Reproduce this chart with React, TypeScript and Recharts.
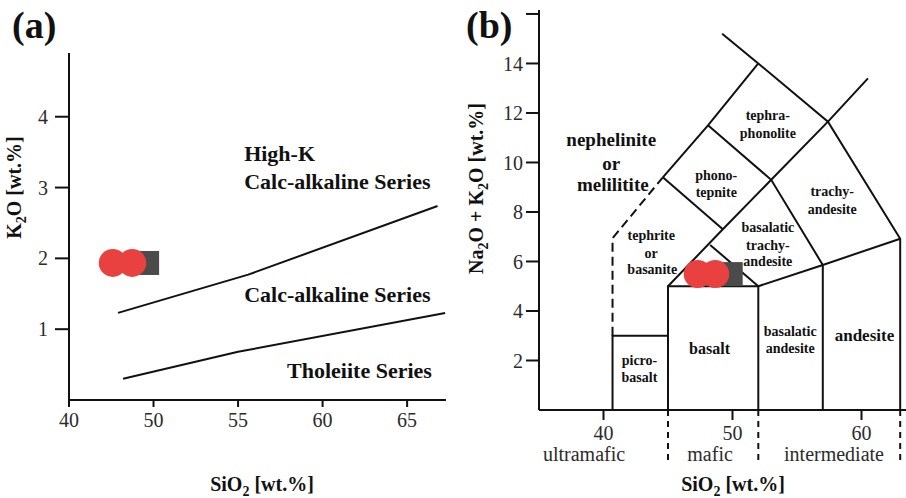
import React from 'react';
import { ComposedChart, Line, Scatter, XAxis, YAxis, ReferenceDot } from 'recharts';

const SERIF = '"Liberation Serif", "Times New Roman", Times, serif';
const INK = '#111111';
const TICK_INK = '#2b2b2b';
const RED = '#e8413f';
const GREY = '#4b4b4b';

// ---- panel (a): K2O vs SiO2 ----
const kXTicks = [45, 50, 55, 60, 65];
const kXTickLabels = ['40', '50', '55', '60', '65'];
const kYTicks = [1, 2, 3, 4];
const highKLine = [
  { x: 47.9, y: 1.23 },
  { x: 55.6, y: 1.77 },
  { x: 66.8, y: 2.74 },
];
const tholeiiteLine = [
  { x: 48.2, y: 0.3 },
  { x: 55.0, y: 0.68 },
  { x: 67.25, y: 1.23 },
];
const kCircles = [
  { x: 47.59, y: 1.935 },
  { x: 48.74, y: 1.935 },
];
const kSquares = [{ x: 49.62, y: 1.935 }];
const kLabels = [
  { text: 'High-K', x: 55.36, y: 3.48 },
  { text: 'Calc-alkaline Series', x: 55.36, y: 3.09 },
  { text: 'Calc-alkaline Series', x: 55.36, y: 1.49 },
  { text: 'Tholeiite Series', x: 57.9, y: 0.42 },
];

// ---- panel (b): TAS diagram ----
const tasNumberTicks = [40, 50, 60];
const tasFieldBounds = [45, 52, 63];
const tasFieldNames = ['ultramafic', 'mafic', 'intermediate'];
const tasFieldCenters = [38.49, 48.26, 57.87];
const tasYTicks = [2, 4, 6, 8, 10, 12, 14, 16];

const picrobasaltEdge = [{ x: 40.7, y: 0 }, { x: 40.7, y: 3 }, { x: 45, y: 3 }];
const tephriteDashed = [{ x: 40.7, y: 3 }, { x: 40.7, y: 6.94 }, { x: 44.6, y: 9.4 }];
const basaltBox = [{ x: 45, y: 0 }, { x: 45, y: 5 }, { x: 52, y: 5 }, { x: 52, y: 0 }];
const alkaliDiagonal = [
  { x: 45, y: 5 },
  { x: 49.25, y: 7.3 },
  { x: 53, y: 9.3 },
  { x: 57.4, y: 11.65 },
  { x: 60.5, y: 13.4 },
];
const phonoDiagonal = [{ x: 44.6, y: 9.4 }, { x: 48.1, y: 11.5 }, { x: 52, y: 14 }];
const upperRidge = [
  { x: 49.2, y: 15.2 },
  { x: 52, y: 14 },
  { x: 57.4, y: 11.65 },
  { x: 63, y: 6.92 },
  { x: 63, y: 0 },
];
const phonotephriteBase = [{ x: 44.6, y: 9.4 }, { x: 49.25, y: 7.3 }];
const tephriphonoliteBase = [
  { x: 48.1, y: 11.5 },
  { x: 53, y: 9.3 },
  { x: 57, y: 5.86 },
  { x: 57, y: 0 },
];
const trachybasaltEdge = [{ x: 48.27, y: 6.67 }, { x: 52, y: 5 }];
const andesiteTop = [{ x: 52, y: 5 }, { x: 57, y: 5.86 }, { x: 63, y: 6.92 }];

const tasSolidLines = [
  picrobasaltEdge,
  basaltBox,
  alkaliDiagonal,
  phonoDiagonal,
  upperRidge,
  phonotephriteBase,
  tephriphonoliteBase,
  trachybasaltEdge,
  andesiteTop,
];

const tasCircles = [
  { x: 47.3, y: 5.49 },
  { x: 48.66, y: 5.49 },
];
const tasSquares = [{ x: 49.86, y: 5.49 }];

const tasLabels = [
  { text: 'tephra-', x: 52.74, y: 11.88, size: 14 },
  { text: 'phonolite', x: 52.74, y: 11.18, size: 14 },
  { text: 'nephelinite', x: 40.6, y: 10.91, size: 19 },
  { text: 'or', x: 40.6, y: 9.97, size: 19 },
  { text: 'melilitite', x: 40.72, y: 9.13, size: 19 },
  { text: 'phono-', x: 48.74, y: 9.49, size: 14 },
  { text: 'tepnite', x: 48.74, y: 8.78, size: 14 },
  { text: 'trachy-', x: 57.73, y: 8.82, size: 14 },
  { text: 'andesite', x: 57.73, y: 8.11, size: 14 },
  { text: 'tephrite', x: 43.7, y: 7.04, size: 14 },
  { text: 'or', x: 43.7, y: 6.33, size: 14 },
  { text: 'basanite', x: 43.78, y: 5.68, size: 14 },
  { text: 'basalatic', x: 52.74, y: 7.37, size: 14 },
  { text: 'trachy-', x: 52.74, y: 6.64, size: 14 },
  { text: 'andesite', x: 52.74, y: 5.99, size: 14 },
  { text: 'basalatic', x: 54.47, y: 3.19, size: 14 },
  { text: 'andesite', x: 54.47, y: 2.49, size: 14 },
  { text: 'andesite', x: 60.23, y: 3.03, size: 17 },
  { text: 'basalt', x: 48.22, y: 2.49, size: 16 },
  { text: 'picro-', x: 42.79, y: 1.99, size: 14 },
  { text: 'basalt', x: 42.79, y: 1.31, size: 14 },
];

const circleShape = (p: any) => <circle cx={p.cx} cy={p.cy} r={14} fill={RED} />;
const squareShape = (p: any) => (
  <rect x={p.cx - 12} y={p.cy - 12} width={24} height={24} fill={GREY} />
);

const tickFont = { fill: TICK_INK, fontSize: 20, fontFamily: SERIF };

const TasTick = (props: any) => {
  const { x, y, payload } = props;
  const v = payload.value;
  if (tasNumberTicks.includes(v)) {
    return (
      <g>
        <line x1={x} x2={x} y1={y} y2={y + 10} stroke={INK} strokeWidth={2} />
        <text x={x} y={y + 30} textAnchor="middle" {...tickFont}>
          {v}
        </text>
      </g>
    );
  }
  if (tasFieldBounds.includes(v)) {
    return (
      <line x1={x} x2={x} y1={y} y2={y + 52} stroke={INK} strokeWidth={2} strokeDasharray="6 5" />
    );
  }
  const i = tasFieldCenters.indexOf(v);
  return (
    <text x={x} y={y + 51} textAnchor="middle" {...tickFont}>
      {tasFieldNames[i]}
    </text>
  );
};

const axisStroke = { stroke: INK, strokeWidth: 2 };

const App: React.FC = () => {
  return (
    <div
      style={{
        position: 'absolute',
        left: 0,
        top: 0,
        width: 906,
        height: 498,
        background: '#fff',
        overflow: 'hidden',
        fontFamily: SERIF,
      }}
    >
      <div style={{ position: 'absolute', left: 0, top: 0 }}>
        <ComposedChart width={460} height={498} margin={{ top: 53, right: 14, bottom: 0, left: 0 }}>
          <XAxis
            type="number"
            dataKey="x"
            domain={[45, 67.3]}
            allowDataOverflow
            ticks={kXTicks}
            interval={0}
            tickFormatter={(v: number) => kXTickLabels[kXTicks.indexOf(v)]}
            height={98}
            tickSize={7}
            tickMargin={6}
            tick={tickFont}
            axisLine={axisStroke}
            tickLine={axisStroke}
          />
          <YAxis
            type="number"
            dataKey="y"
            domain={[0, 4.9]}
            allowDataOverflow
            ticks={kYTicks}
            interval={0}
            width={69}
            tickSize={14}
            tickMargin={7}
            tick={tickFont}
            axisLine={axisStroke}
            tickLine={axisStroke}
          />
          <Line data={highKLine} dataKey="y" type="linear" stroke={INK} strokeWidth={2} dot={false} isAnimationActive={false} />
          <Line data={tholeiiteLine} dataKey="y" type="linear" stroke={INK} strokeWidth={2} dot={false} isAnimationActive={false} />
          <Scatter data={kSquares} shape={squareShape} isAnimationActive={false} />
          <Scatter data={kCircles} shape={circleShape} isAnimationActive={false} />
          {kLabels.map((l, i) => (
            <ReferenceDot
              key={'ka' + i}
              x={l.x}
              y={l.y}
              shape={(p: any) => (
                <text
                  x={p.cx}
                  y={p.cy}
                  textAnchor="start"
                  dominantBaseline="central"
                  fill={INK}
                  fontSize={22}
                  fontWeight={700}
                  fontFamily={SERIF}
                >
                  {l.text}
                </text>
              )}
            />
          ))}
        </ComposedChart>
      </div>

      <div style={{ position: 'absolute', left: 460, top: 0 }}>
        <ComposedChart width={446} height={498} margin={{ top: 10, right: 0, bottom: 0, left: 0 }}>
          <XAxis
            type="number"
            dataKey="x"
            domain={[35, 63.45]}
            allowDataOverflow
            ticks={[38.49, 40, 45, 48.26, 50, 52, 57.87, 60, 63]}
            interval={0}
            height={88}
            tickSize={0}
            tickMargin={0}
            tick={<TasTick />}
            tickLine={false}
            axisLine={axisStroke}
          />
          <YAxis
            type="number"
            dataKey="y"
            domain={[0, 16.16]}
            allowDataOverflow
            ticks={tasYTicks}
            interval={0}
            tickFormatter={(v: number) => (v === 16 ? '' : String(v))}
            width={79}
            tickSize={13}
            tickMargin={3}
            tick={tickFont}
            axisLine={axisStroke}
            tickLine={axisStroke}
          />
          {tasSolidLines.map((d, i) => (
            <Line
              key={'tl' + i}
              data={d}
              dataKey="y"
              type="linear"
              stroke={INK}
              strokeWidth={2}
              dot={false}
              isAnimationActive={false}
            />
          ))}
          <Line
            data={tephriteDashed}
            dataKey="y"
            type="linear"
            stroke={INK}
            strokeWidth={2}
            strokeDasharray="9 5"
            dot={false}
            isAnimationActive={false}
          />
          <Scatter data={tasSquares} shape={squareShape} isAnimationActive={false} />
          <Scatter data={tasCircles} shape={circleShape} isAnimationActive={false} />
          {tasLabels.map((l, i) => (
            <ReferenceDot
              key={'tb' + i}
              x={l.x}
              y={l.y}
              shape={(p: any) => (
                <text
                  x={p.cx}
                  y={p.cy}
                  textAnchor="middle"
                  dominantBaseline="central"
                  fill={INK}
                  fontSize={l.size}
                  fontWeight={700}
                  fontFamily={SERIF}
                >
                  {l.text}
                </text>
              )}
            />
          ))}
        </ComposedChart>
      </div>

      <svg
        width={906}
        height={498}
        style={{ position: 'absolute', left: 0, top: 0, pointerEvents: 'none' }}
        fontFamily={SERIF}
        fill={INK}
      >
        <text x={12} y={38} fontSize={38} fontWeight={700}>
          (a)
        </text>
        <text x={466} y={38} fontSize={38} fontWeight={700}>
          (b)
        </text>
        <text
          x={21}
          y={187.5}
          textAnchor="middle"
          fontSize={20}
          fontWeight={700}
          transform="rotate(-90 21 187.5)"
        >
          K<tspan dy={5} fontSize={14}>2</tspan>
          <tspan dy={-5}>O [wt.%]</tspan>
        </text>
        <text x={262} y={491} textAnchor="middle" fontSize={20} fontWeight={700}>
          SiO<tspan dy={5} fontSize={14}>2</tspan>
          <tspan dy={-5}> [wt.%]</tspan>
        </text>
        <text
          x={483}
          y={188.5}
          textAnchor="middle"
          fontSize={20}
          fontWeight={700}
          transform="rotate(-90 483 188.5)"
        >
          Na<tspan dy={5} fontSize={14}>2</tspan>
          <tspan dy={-5}>O + K</tspan>
          <tspan dy={5} fontSize={14}>2</tspan>
          <tspan dy={-5}>O [wt.%]</tspan>
        </text>
        <text x={733} y={491} textAnchor="middle" fontSize={20} fontWeight={700}>
          SiO<tspan dy={5} fontSize={14}>2</tspan>
          <tspan dy={-5}> [wt.%]</tspan>
        </text>
      </svg>
    </div>
  );
};

export default App;
